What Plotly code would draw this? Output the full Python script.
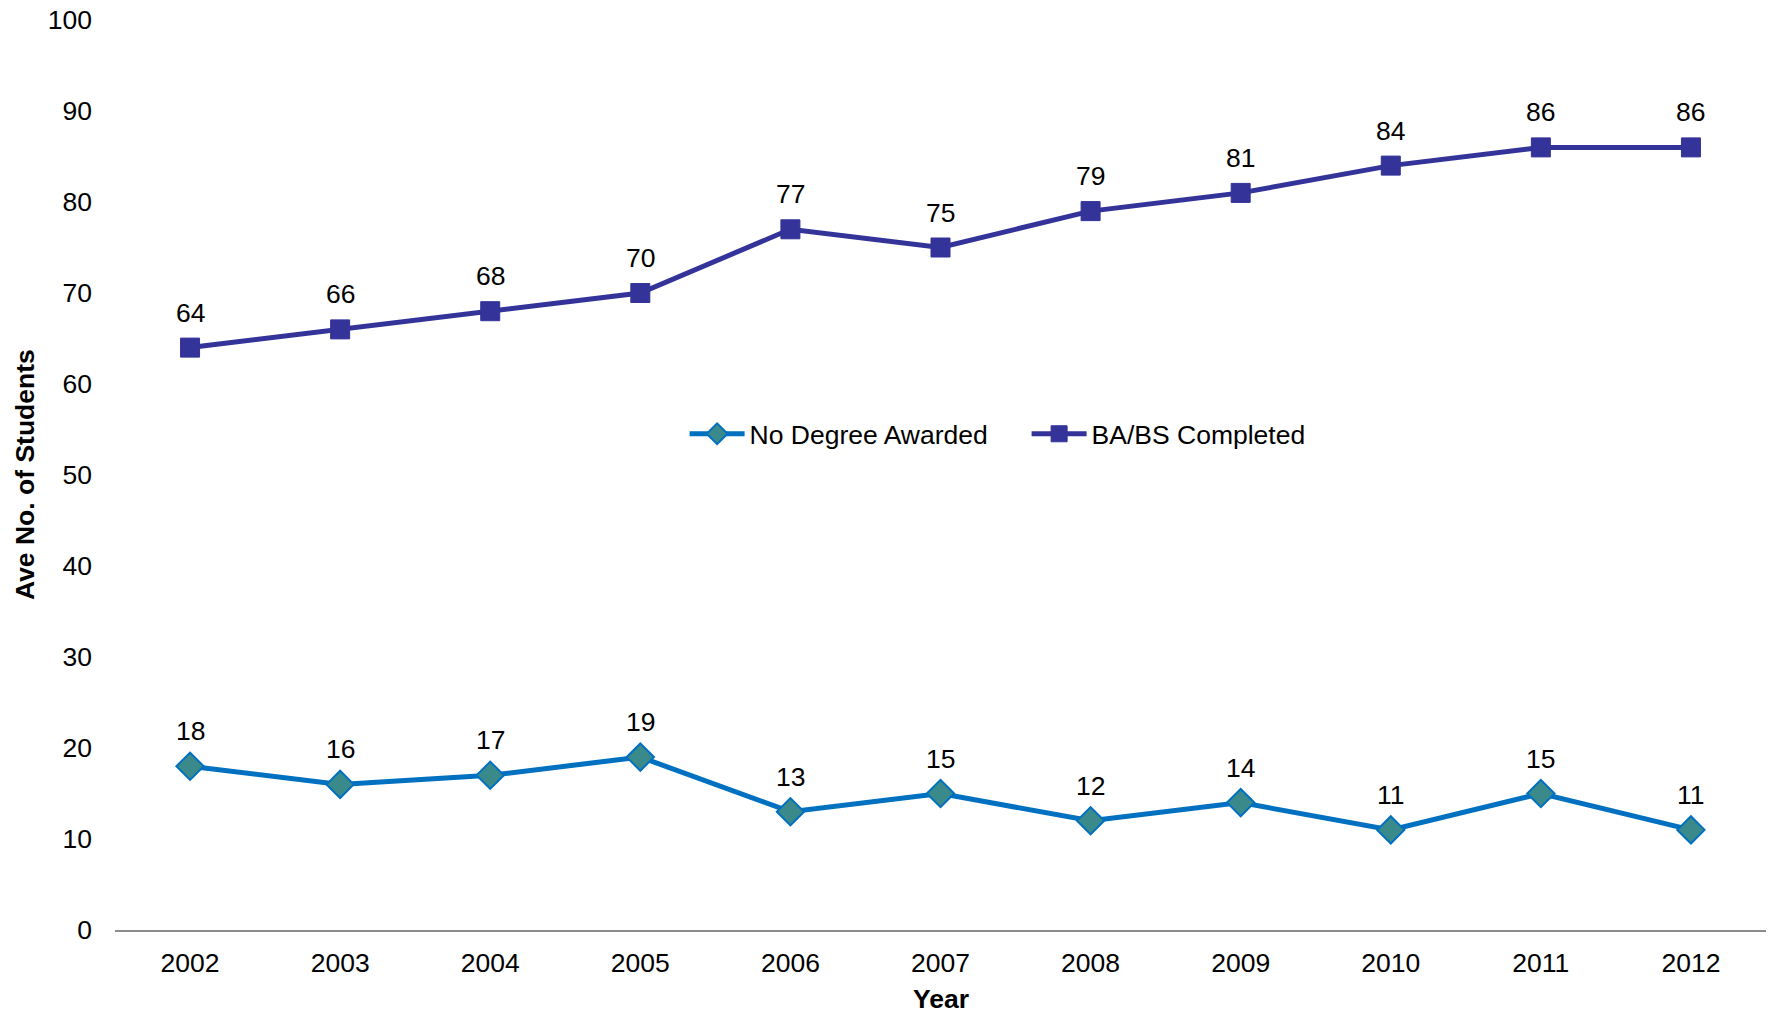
import plotly.graph_objects as go

years = ["2002", "2003", "2004", "2005", "2006", "2007", "2008", "2009", "2010", "2011", "2012"]
no_degree = [18, 16, 17, 19, 13, 15, 12, 14, 11, 15, 11]
ba_bs = [64, 66, 68, 70, 77, 75, 79, 81, 84, 86, 86]
y_ticks = [0, 10, 20, 30, 40, 50, 60, 70, 80, 90, 100]

FONT = "Liberation Sans, Arial, sans-serif"
FS = 26.5

fig = go.Figure()
fig.add_trace(go.Scatter(
    x=years, y=no_degree, name="No Degree Awarded",
    mode="lines+markers",
    line=dict(color="#0070C0", width=5),
    marker=dict(symbol="diamond", size=21, color="#3A8A8C",
                line=dict(color="#0070C0", width=2)),
))
fig.add_trace(go.Scatter(
    x=years, y=ba_bs, name="BA/BS Completed",
    mode="lines+markers",
    line=dict(color="#333399", width=5),
    marker=dict(symbol="square", size=19, color="#333399",
                line=dict(color="#333399", width=1)),
))

annotations = []
for series in (no_degree, ba_bs):
    for i, v in enumerate(series):
        annotations.append(dict(x=i, y=v, xref="x", yref="y", text=str(v),
                                showarrow=False, yshift=35, yanchor="middle",
                                xanchor="center",
                                font=dict(size=FS, family=FONT, color="#000000")))
annotations += [
    dict(text="<b>Ave No. of Students</b>", xref="paper", yref="paper",
         x=-0.0545, y=0.5, xanchor="center", yanchor="middle", textangle=-90,
         showarrow=False, font=dict(size=FS, family=FONT)),
    dict(text="<b>Year</b>", xref="paper", yref="paper",
         x=0.5, y=-0.0755, xanchor="center", yanchor="middle",
         showarrow=False, font=dict(size=FS, family=FONT)),
]

fig.update_layout(
    width=1769, height=1013,
    margin=dict(l=115, r=3, t=20, b=83, autoexpand=False),
    paper_bgcolor="white", plot_bgcolor="white",
    font=dict(family=FONT, size=FS, color="#000000"),
    showlegend=True,
    legend=dict(orientation="h", x=0.345, y=0.545, xanchor="left", yanchor="middle",
                font=dict(size=FS, family=FONT), bgcolor="rgba(0,0,0,0)",
                itemwidth=55, entrywidth=272, entrywidthmode="pixels"),
    xaxis=dict(type="category", range=[-0.5, 10.5], showgrid=False, zeroline=False,
               showline=True, linecolor="#8C8C8C", linewidth=2, ticks="",
               tickfont=dict(size=FS, family=FONT), ticklabelstandoff=8),
    yaxis=dict(range=[0, 100], tickvals=y_ticks, showgrid=False, zeroline=False,
               showline=False, ticks="", tickfont=dict(size=FS, family=FONT),
               ticklabelstandoff=22, ticklabeloverflow="allow"),
    annotations=annotations,
)

fig.write_html("out.html", config={"displayModeBar": False},
               post_script="document.body.style.margin='0';document.body.style.overflow='hidden';")
